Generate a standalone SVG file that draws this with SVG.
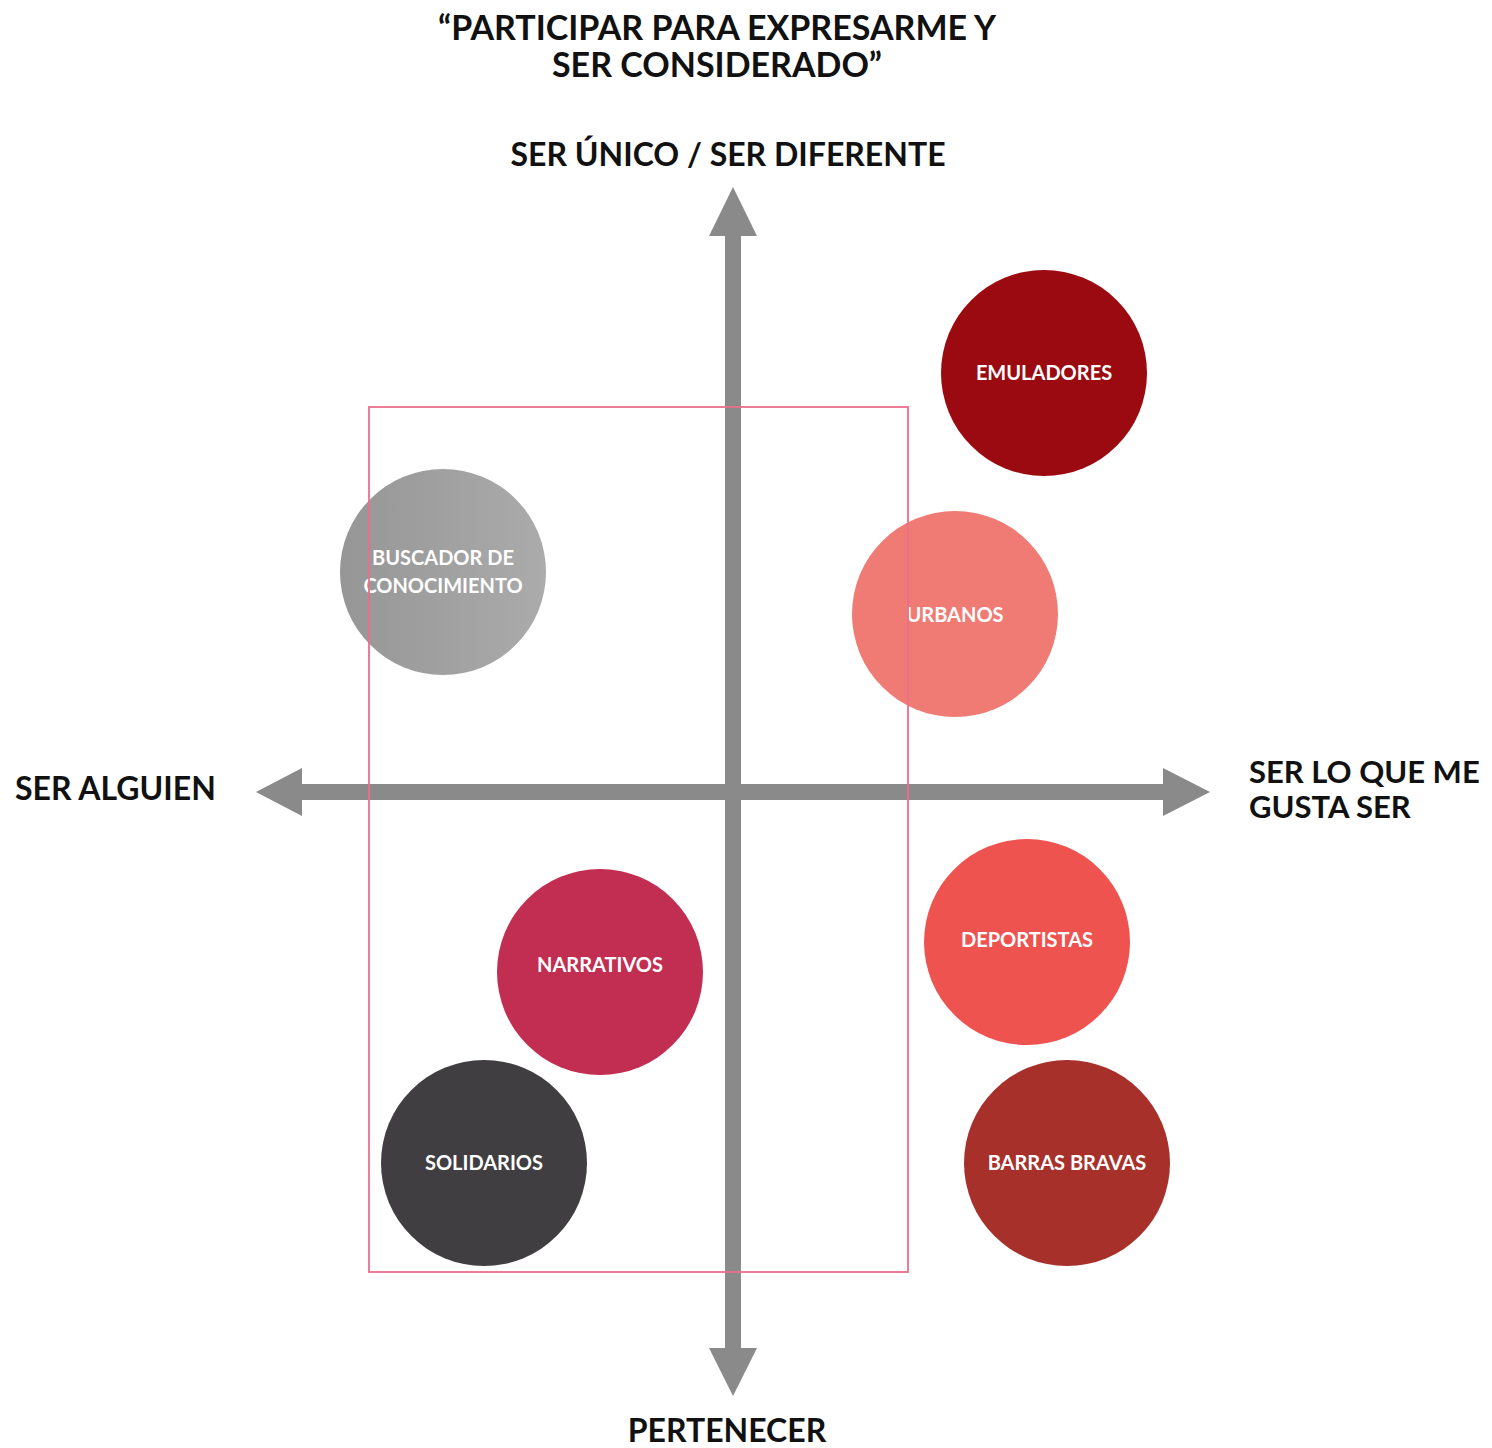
<svg xmlns="http://www.w3.org/2000/svg" width="1492" height="1448" viewBox="0 0 1492 1448">
<style>
.lbl{font-family:Lato,"Open Sans","Liberation Sans",sans-serif;font-weight:700;fill:#111;}
.t{font-size:34px;}
.a{font-size:32px;}
.r{font-size:31px;}
.c{font-family:Lato,"Open Sans","Liberation Sans",sans-serif;font-weight:700;fill:#fff;font-size:20px;text-anchor:middle;}
.ax{fill:#8a8a8a;}
</style>
<defs>
<linearGradient id="g1" x1="0" y1="0" x2="1" y2="0">
<stop offset="0" stop-color="#969696"/>
<stop offset="1" stop-color="#ababab"/>
</linearGradient>
</defs>
<rect width="1492" height="1448" fill="#fff"/>
<g id="title">
<text class="lbl t" x="717" y="40" text-anchor="middle">“PARTICIPAR PARA EXPRESARME Y</text>
<text class="lbl t" x="717" y="77" text-anchor="middle">SER CONSIDERADO”</text>
</g>
<g id="connectors">
<rect class="ax" x="725" y="232" width="16" height="1120"/>
<polygon class="ax" points="733,187 757,236 709,236"/>
<polygon class="ax" points="733,1396 757,1348 709,1348"/>
<rect class="ax" x="298" y="784" width="870" height="16"/>
<polygon class="ax" points="256,792 302,768 302,816"/>
<polygon class="ax" points="1210,792 1163,768 1163,816"/>
</g>
<g id="axis-labels">
<text class="lbl a" x="728" y="166" text-anchor="middle">SER ÚNICO / SER DIFERENTE</text>
<text class="lbl a" x="15" y="800">SER ALGUIEN</text>
<text class="lbl r" x="1249" y="783">SER LO QUE ME</text>
<text class="lbl r" x="1249" y="818">GUSTA SER</text>
<text class="lbl a" x="727" y="1442" text-anchor="middle">PERTENECER</text>
</g>
<g id="emuladores"><circle cx="1044" cy="373" r="103" fill="#9b0a10"/><text class="c" x="1044" y="380">EMULADORES</text></g>
<g id="buscador"><circle cx="443" cy="572" r="103" fill="url(#g1)"/><text class="c" x="443" y="565">BUSCADOR DE</text><text class="c" x="443" y="593">CONOCIMIENTO</text></g>
<g id="urbanos"><circle cx="955" cy="614" r="103" fill="#f07b74"/><text class="c" x="955" y="622">URBANOS</text></g>
<g id="deportistas"><circle cx="1027" cy="942" r="103" fill="#ef5350"/><text class="c" x="1027" y="947">DEPORTISTAS</text></g>
<g id="narrativos"><circle cx="600" cy="972" r="103" fill="#c22e52"/><text class="c" x="600" y="972">NARRATIVOS</text></g>
<g id="solidarios"><circle cx="484" cy="1163" r="103" fill="#403e41"/><text class="c" x="484" y="1170">SOLIDARIOS</text></g>
<g id="barras"><circle cx="1067" cy="1163" r="103" fill="#a8302a"/><text class="c" x="1067" y="1170">BARRAS BRAVAS</text></g>
<g id="frame"><rect x="369" y="407" width="539" height="865" fill="none" stroke="#ec6f8c" stroke-width="1.8"/></g>
</svg>
